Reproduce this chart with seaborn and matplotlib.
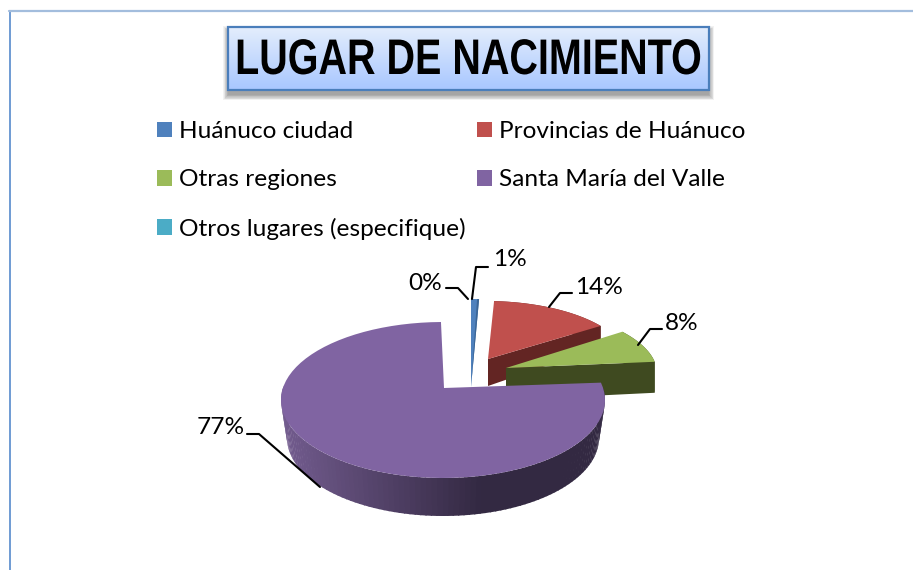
import numpy as np
import matplotlib
matplotlib.use("Agg")
import matplotlib.pyplot as plt
import matplotlib.patheffects as pe
from matplotlib.patches import Patch, Rectangle
from matplotlib.transforms import Affine2D
import seaborn as sns

titulo = "LUGAR DE NACIMIENTO"
lugares = ["Huánuco ciudad", "Provincias de Huánuco", "Otras regiones",
           "Santa María del Valle", "Otros lugares (especifique)"]
porcentajes = [0.9, 13.9, 7.6, 77.4, 0.2]
colores = ["#4F81BD", "#C0504D", "#9BBB59", "#8064A2", "#4BACC6"]

sns.set_theme(style="white")
plt.rcParams['font.family'] = ['Lato', 'DejaVu Sans']

# each slice sits on its own ellipse, this fakes the exploded 3d look
# apex, centre, radii, depth at apex, depth at rim
vista = {
    0: ((471, 387), (471, 387), 143, 88, 0, 0),
    1: ((488, 359), (486, 363), 143, 62, 27, 21),
    2: ((506, 368), (482, 373), 175, 69, 32, 31),
    3: ((444, 388), (443, 400), 162, 78, 37, 37),
}
colores_lado = {1: "#632523", 2: "#3F4A20"}

# label position, then the leader line
etiquetas = {
    4: ((425, 283), [(468, 299), (458, 288), (446, 288)]),
    0: ((510, 260), [(472, 299), (476, 267), (488, 267)]),
    1: ((599, 287), [(549, 307), (560, 293), (572, 293)]),
    2: ((682, 324), [(638, 345), (650, 329), (662, 329)]),
    3: ((221, 428), [(320, 487), (259, 434), (247, 434)]),
}


class Apretar(pe.AbstractPathEffect):
    # title font is narrower than anything installed
    def __init__(self, cx, sx):
        super().__init__()
        self.cx = cx
        self.sx = sx

    def draw_path(self, renderer, gc, tpath, affine, rgbFace=None):
        t = affine + Affine2D().translate(-self.cx, 0).scale(self.sx, 1).translate(self.cx, 0)
        renderer.draw_path(gc, tpath, t, rgbFace)


def arco(centro, rx, ry, a, b):
    t = np.radians(np.linspace(a, b, 80))
    return centro[0] + rx * np.sin(t), centro[1] - ry * np.cos(t)


fig = plt.figure(figsize=(9.13, 5.7), dpi=100)
ax = fig.add_axes([0, 0, 1, 1])

# marco
ax.plot([9.5, 9.5], [570, 11], color="#6F9BD3", lw=1.4)
ax.plot([9, 913], [11, 11], color="#A3BDDD", lw=1.6)

# slices, back to front
angulos = np.cumsum([0] + porcentajes) * 3.6
for i in [0, 1, 2]:
    apice, centro, rx, ry, d1, d2 = vista[i]
    x, y = arco(centro, rx, ry, angulos[i], angulos[i + 1])
    if i in colores_lado:
        ax.fill([apice[0], x[-1], x[-1], apice[0]],
                [apice[1], y[-1], y[-1] + d2, apice[1] + d1],
                color=colores_lado[i], lw=0)
        # rim below the arc
        ax.fill(np.r_[x, x[::-1]], np.r_[y, y[::-1] + d2], color=colores_lado[i], lw=0)
    ax.fill(np.r_[apice[0], x], np.r_[apice[1], y], color=colores[i], lw=0)

# blue slice has a darker cut face
x, y = arco(vista[0][1], vista[0][2], vista[0][3], angulos[0], angulos[1])
ax.fill([x[-1], x[-1] - 2, vista[0][0][0]], [y[-1], y[-1], vista[0][0][1]], color="#3B6595", lw=0)

# big slice, the side fades from left to right
apice, centro, rx, ry, d1, d2 = vista[3]
pasos = np.arange(80, 281, 2)
for a, b in zip(pasos[:-1], pasos[1:]):
    x, y = arco(centro, rx, ry, a, b + 0.5)
    x2, y2 = arco((centro[0], centro[1] + 38), rx - 6, ry, a, b + 0.5)
    f = np.interp(x.mean(), [280, 480], [0, 1])
    c = np.array([0.45, 0.36, 0.56]) * (1 - f) + np.array([0.20, 0.16, 0.26]) * f
    ax.fill(np.r_[x, x2[::-1]], np.r_[y, y2[::-1]], color=c, lw=0)
# perspective pulls the start of the arc a bit towards the back
x, y = arco(centro, rx, ry, angulos[3] - 3.5, angulos[4])
ax.fill(np.r_[apice[0], x], np.r_[apice[1], y], color=colores[3], lw=0)

# labels
for i, (pos, linea) in etiquetas.items():
    ax.text(pos[0], pos[1], f"{porcentajes[i]:.0f}%", ha="center", va="center",
            fontsize=17.6, color="black")
    ax.plot(*zip(*linea), color="black", lw=1.5)

# legend, row order needs the columns swapped around
orden = [0, 2, 4, 1, 3]
handles = [Patch(color=colores[i], lw=0) for i in orden]
ax.legend(handles, [lugares[i] for i in orden], ncols=2, frameon=False,
          loc="upper left", bbox_to_anchor=(157, 121), bbox_transform=ax.transData,
          fontsize=17.6, handlelength=0.61, handleheight=0.61, handletextpad=0.3,
          labelspacing=1.12, columnspacing=0.45, borderpad=0, borderaxespad=0,
          labelcolor="black")

# title box
for k in range(8):
    ax.add_patch(Rectangle((228 - k * 0.7, 31 - k * 0.7), 481 + k * 1.4, 64 + k * 1.4,
                           color="black", alpha=0.05, lw=0))
degradado = np.linspace(0, 1, 64)[:, None, None]
img = (1 - degradado) * np.array([0.89, 0.93, 0.99]) + degradado * np.array([0.66, 0.78, 1.0])
ax.imshow(img, extent=(228, 709, 90, 27), aspect="auto", zorder=2)
ax.add_patch(Rectangle((228, 27), 481, 63, fill=False, ec="#4A7EBB", lw=1.6, zorder=3))
ax.text(468.5, 61, titulo, ha="center", va="center", fontsize=36, fontweight="bold",
        family="Liberation Sans", color="black", zorder=4,
        path_effects=[Apretar(468.5, 0.79)])

ax.set_xlim(0, 913)
ax.set_ylim(570, 0)
ax.axis("off")

plt.savefig("out.png", dpi=100)
